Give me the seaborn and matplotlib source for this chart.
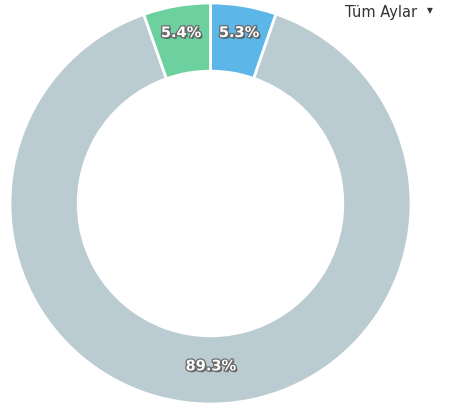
import matplotlib
matplotlib.use("Agg")
import matplotlib.pyplot as plt
import matplotlib.patheffects as pe
import numpy as np
import seaborn as sns

# Data (clockwise from top)
labels = ["Mavi", "Gri", "Yeşil"]
values = [5.3, 89.3, 5.4]
colors = ["#5cb6e8", "#bacbd2", "#6dd19f"]
label_dist = [0.865, 0.81, 0.865]

sns.set_theme(style="white")
plt.rcParams['font.family'] = ['DejaVu Sans']

fig = plt.figure(figsize=(4.49, 4.11), dpi=100)
ax = fig.add_axes([10 / 449, 7 / 411, 401 / 449, 401 / 411])

wedges, _ = ax.pie(values, colors=sns.color_palette(colors), startangle=90,
                   counterclock=False, radius=1.0,
                   wedgeprops=dict(width=0.34, edgecolor="white", linewidth=2))

# percentage labels, white with soft dark shadow
shadow = [pe.withSimplePatchShadow(offset=(1.2, -1.2), shadow_rgbFace="#222222", alpha=0.6),
          pe.withStroke(linewidth=1.8, foreground="#6a6a6a")]
for w, v, d in zip(wedges, values, label_dist):
    ang = np.deg2rad((w.theta1 + w.theta2) / 2)
    ax.text(d * np.cos(ang), d * np.sin(ang), f"{v}%",
            ha="center", va="center", color="white",
            fontsize=10.5, fontweight="bold", path_effects=shadow)

ax.set_xlim(-1, 1)
ax.set_ylim(-1, 1)
ax.set_aspect("equal")
ax.axis("off")

# dropdown label top right
fig.text(345 / 449, 1 - 12 / 411, "Tüm Aylar", ha="left", va="center",
         fontsize=10.5, color="#333333")
fig.text(433 / 449, 1 - 11 / 411, "▼", ha="right", va="center",
         fontsize=5.5, color="#333333")

fig.savefig("out.png", dpi=100)
